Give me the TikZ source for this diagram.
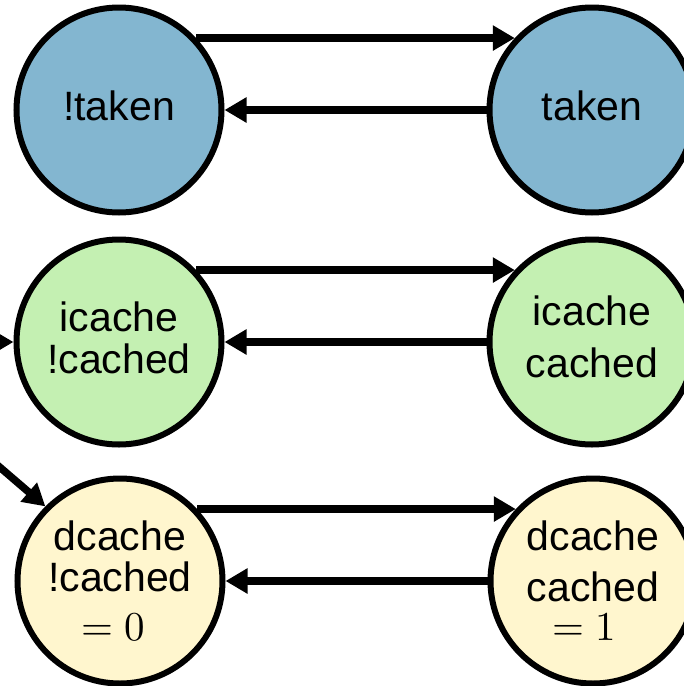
\documentclass[tikz,border=0pt]{standalone}
\usepackage{fontspec}
\usepackage{unicode-math}
\setmainfont{Liberation Sans}
\setmathfont{Latin Modern Math}
\usetikzlibrary{arrows.meta}
\definecolor{stblue}{RGB}{131,182,208}
\definecolor{stgreen}{RGB}{196,240,178}
\definecolor{styellow}{RGB}{255,246,206}
\begin{document}
\begin{tikzpicture}[x=1pt,y=-1pt,
  state/.style={circle, draw=black, line width=6pt, minimum size=205pt, inner sep=0pt,
    align=center, font=\fontsize{41}{42}\selectfont},
  arr/.style={line width=7.5pt, -{Triangle[length=22pt,width=24pt]}}]
\clip (0,0) rectangle (684,686);
\node[state, fill=stblue, text depth=9.4pt] (A) at (119,110) {!taken};
\node[state, fill=stblue, text depth=9.4pt] (B) at (592,110) {taken};
\node[state, fill=stgreen, text depth=9.4pt] (C) at (119,342) {icache\\!cached};
\node[state, fill=stgreen, text depth=11.4pt] (D) at (592,342) {icache\\[10pt]cached};
\node[state, fill=styellow, text depth=0pt] (E) at (120,581) {dcache\\[-1pt]!cached\\[7pt]$=0\kern13pt$};
\node[state, fill=styellow, text depth=0pt] (F) at (593,581) {dcache\\[9pt]cached\\[-3pt]$=1\kern18pt$};
\coordinate (c0) at (-40,342);
\coordinate (e0) at (-40,433);
% row 1
\draw[arr] (A.43) -- (B.137);
\draw[arr] (B.west) -- (A.east);
% row 2
\draw[arr] (C.43) -- (D.137);
\draw[arr] (D.west) -- (C.east);
\draw[arr] (c0) -- (C.west);
% row 3
\draw[arr] (E.43) -- (F.137);
\draw[arr] (F.west) -- (E.east);
\draw[arr] (e0) -- (E.135);
\end{tikzpicture}
\end{document}
